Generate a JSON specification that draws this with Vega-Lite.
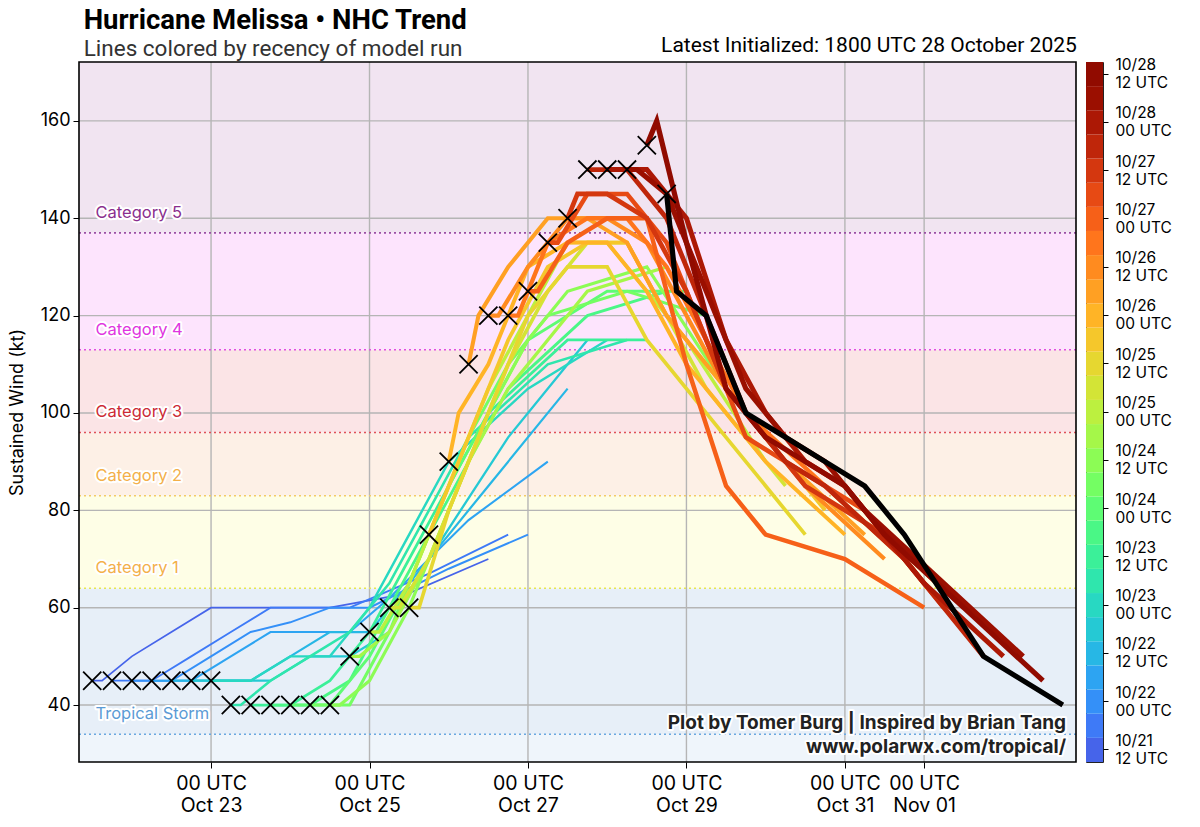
{
  "$schema": "https://vega.github.io/schema/vega-lite/v6.json",
  "padding": {"left": 8, "top": 7, "right": 5, "bottom": 5},
  "background": "white",
  "title": {
    "text": "Hurricane Melissa • NHC Trend",
    "subtitle": "Lines colored by recency of model run",
    "anchor": "start",
    "dx": 75,
    "offset": -25,
    "font": "Roboto",
    "fontSize": 27.5,
    "fontWeight": "bold",
    "color": "black",
    "subtitleFont": "Roboto",
    "subtitleFontSize": 22.5,
    "subtitleColor": "#333333",
    "subtitlePadding": 3
  },
  "datasets": {
    "bands": [
      {"b": "ts0", "lo": 0, "hi": 34},
      {"b": "ts", "lo": 34, "hi": 64},
      {"b": "c1", "lo": 64, "hi": 83},
      {"b": "c2", "lo": 83, "hi": 96},
      {"b": "c3", "lo": 96, "hi": 113},
      {"b": "c4", "lo": 113, "hi": 137},
      {"b": "c5", "lo": 137, "hi": 200}
    ],
    "cats": [
      {"name": "Tropical Storm", "v": 34},
      {"name": "Category 1", "v": 64},
      {"name": "Category 2", "v": 83},
      {"name": "Category 3", "v": 96},
      {"name": "Category 4", "v": 113},
      {"name": "Category 5", "v": 137}
    ],
    "gridx": [
      {"t": "2025-10-23T00:00Z"}, {"t": "2025-10-25T00:00Z"}, {"t": "2025-10-27T00:00Z"},
      {"t": "2025-10-29T00:00Z"}, {"t": "2025-10-31T00:00Z"}, {"t": "2025-11-01T00:00Z"}
    ],
    "gridy": [{"v": 40}, {"v": 60}, {"v": 80}, {"v": 100}, {"v": 120}, {"v": 140}, {"v": 160}],
    "bt": [
      {"r": 0, "t": "2025-10-21T12:00Z", "v": 45},
      {"r": 1, "t": "2025-10-21T18:00Z", "v": 45},
      {"r": 2, "t": "2025-10-22T00:00Z", "v": 45},
      {"r": 3, "t": "2025-10-22T06:00Z", "v": 45},
      {"r": 4, "t": "2025-10-22T12:00Z", "v": 45},
      {"r": 5, "t": "2025-10-22T18:00Z", "v": 45},
      {"r": 6, "t": "2025-10-23T00:00Z", "v": 45},
      {"r": 7, "t": "2025-10-23T06:00Z", "v": 40},
      {"r": 8, "t": "2025-10-23T12:00Z", "v": 40},
      {"r": 9, "t": "2025-10-23T18:00Z", "v": 40},
      {"r": 10, "t": "2025-10-24T00:00Z", "v": 40},
      {"r": 11, "t": "2025-10-24T06:00Z", "v": 40},
      {"r": 12, "t": "2025-10-24T12:00Z", "v": 40},
      {"r": 13, "t": "2025-10-24T18:00Z", "v": 50},
      {"r": 14, "t": "2025-10-25T00:00Z", "v": 55},
      {"r": 15, "t": "2025-10-25T06:00Z", "v": 60},
      {"r": 16, "t": "2025-10-25T12:00Z", "v": 60},
      {"r": 17, "t": "2025-10-25T18:00Z", "v": 75},
      {"r": 18, "t": "2025-10-26T00:00Z", "v": 90},
      {"r": 19, "t": "2025-10-26T06:00Z", "v": 110},
      {"r": 20, "t": "2025-10-26T12:00Z", "v": 120},
      {"r": 21, "t": "2025-10-26T18:00Z", "v": 120},
      {"r": 22, "t": "2025-10-27T00:00Z", "v": 125},
      {"r": 23, "t": "2025-10-27T06:00Z", "v": 135},
      {"r": 24, "t": "2025-10-27T12:00Z", "v": 140},
      {"r": 25, "t": "2025-10-27T18:00Z", "v": 150},
      {"r": 26, "t": "2025-10-28T00:00Z", "v": 150},
      {"r": 27, "t": "2025-10-28T06:00Z", "v": 150},
      {"r": 28, "t": "2025-10-28T12:00Z", "v": 155},
      {"r": 29, "t": "2025-10-28T18:00Z", "v": 145}
    ],
    "fc": [
      {"r":0,"t":"2025-10-21T12:00Z","v":45},{"r":0,"t":"2025-10-21T15:00Z","v":45},{"r":0,"t":"2025-10-22T00:00Z","v":50},{"r":0,"t":"2025-10-22T12:00Z","v":55},{"r":0,"t":"2025-10-23T00:00Z","v":60},{"r":0,"t":"2025-10-23T12:00Z","v":60},{"r":0,"t":"2025-10-24T00:00Z","v":60},{"r":0,"t":"2025-10-24T12:00Z","v":60},{"r":0,"t":"2025-10-25T12:00Z","v":63},{"r":0,"t":"2025-10-26T12:00Z","v":70},
      {"r":1,"t":"2025-10-21T18:00Z","v":45},{"r":1,"t":"2025-10-21T21:00Z","v":45},{"r":1,"t":"2025-10-22T06:00Z","v":45},{"r":1,"t":"2025-10-22T18:00Z","v":50},{"r":1,"t":"2025-10-23T06:00Z","v":55},{"r":1,"t":"2025-10-23T18:00Z","v":60},{"r":1,"t":"2025-10-24T06:00Z","v":60},{"r":1,"t":"2025-10-24T18:00Z","v":60},{"r":1,"t":"2025-10-25T18:00Z","v":67},{"r":1,"t":"2025-10-26T18:00Z","v":75},
      {"r":2,"t":"2025-10-22T00:00Z","v":45},{"r":2,"t":"2025-10-22T03:00Z","v":45},{"r":2,"t":"2025-10-22T12:00Z","v":45},{"r":2,"t":"2025-10-23T00:00Z","v":50},{"r":2,"t":"2025-10-23T12:00Z","v":55},{"r":2,"t":"2025-10-24T00:00Z","v":57},{"r":2,"t":"2025-10-24T12:00Z","v":60},{"r":2,"t":"2025-10-25T00:00Z","v":60},{"r":2,"t":"2025-10-26T00:00Z","v":68},{"r":2,"t":"2025-10-27T00:00Z","v":75},
      {"r":3,"t":"2025-10-22T06:00Z","v":45},{"r":3,"t":"2025-10-22T09:00Z","v":45},{"r":3,"t":"2025-10-22T18:00Z","v":45},{"r":3,"t":"2025-10-23T06:00Z","v":50},{"r":3,"t":"2025-10-23T18:00Z","v":55},{"r":3,"t":"2025-10-24T06:00Z","v":55},{"r":3,"t":"2025-10-24T18:00Z","v":55},{"r":3,"t":"2025-10-25T06:00Z","v":62},{"r":3,"t":"2025-10-26T06:00Z","v":78},{"r":3,"t":"2025-10-27T06:00Z","v":90},
      {"r":4,"t":"2025-10-22T12:00Z","v":45},{"r":4,"t":"2025-10-22T15:00Z","v":45},{"r":4,"t":"2025-10-23T00:00Z","v":45},{"r":4,"t":"2025-10-23T12:00Z","v":45},{"r":4,"t":"2025-10-24T00:00Z","v":50},{"r":4,"t":"2025-10-24T12:00Z","v":55},{"r":4,"t":"2025-10-25T00:00Z","v":55},{"r":4,"t":"2025-10-25T12:00Z","v":65},{"r":4,"t":"2025-10-26T12:00Z","v":85},{"r":4,"t":"2025-10-27T12:00Z","v":105},
      {"r":5,"t":"2025-10-22T18:00Z","v":45},{"r":5,"t":"2025-10-22T21:00Z","v":45},{"r":5,"t":"2025-10-23T06:00Z","v":45},{"r":5,"t":"2025-10-23T18:00Z","v":45},{"r":5,"t":"2025-10-24T06:00Z","v":50},{"r":5,"t":"2025-10-24T18:00Z","v":50},{"r":5,"t":"2025-10-25T06:00Z","v":55},{"r":5,"t":"2025-10-25T18:00Z","v":70},{"r":5,"t":"2025-10-26T18:00Z","v":95},{"r":5,"t":"2025-10-27T18:00Z","v":115},
      {"r":6,"t":"2025-10-23T00:00Z","v":45},{"r":6,"t":"2025-10-23T03:00Z","v":45},{"r":6,"t":"2025-10-23T12:00Z","v":45},{"r":6,"t":"2025-10-24T00:00Z","v":50},{"r":6,"t":"2025-10-24T12:00Z","v":50},{"r":6,"t":"2025-10-25T00:00Z","v":60},{"r":6,"t":"2025-10-25T12:00Z","v":75},{"r":6,"t":"2025-10-26T00:00Z","v":90},{"r":6,"t":"2025-10-27T00:00Z","v":105},{"r":6,"t":"2025-10-28T00:00Z","v":115},
      {"r":7,"t":"2025-10-23T06:00Z","v":40},{"r":7,"t":"2025-10-23T09:00Z","v":40},{"r":7,"t":"2025-10-23T18:00Z","v":45},{"r":7,"t":"2025-10-24T06:00Z","v":50},{"r":7,"t":"2025-10-24T18:00Z","v":55},{"r":7,"t":"2025-10-25T06:00Z","v":65},{"r":7,"t":"2025-10-25T18:00Z","v":80},{"r":7,"t":"2025-10-26T06:00Z","v":95},{"r":7,"t":"2025-10-27T06:00Z","v":110},{"r":7,"t":"2025-10-28T06:00Z","v":115},
      {"r":8,"t":"2025-10-23T12:00Z","v":40},{"r":8,"t":"2025-10-23T15:00Z","v":40},{"r":8,"t":"2025-10-24T00:00Z","v":40},{"r":8,"t":"2025-10-24T12:00Z","v":45},{"r":8,"t":"2025-10-25T00:00Z","v":55},{"r":8,"t":"2025-10-25T12:00Z","v":70},{"r":8,"t":"2025-10-26T00:00Z","v":85},{"r":8,"t":"2025-10-26T12:00Z","v":100},{"r":8,"t":"2025-10-27T12:00Z","v":115},{"r":8,"t":"2025-10-28T12:00Z","v":115},
      {"r":9,"t":"2025-10-23T18:00Z","v":40},{"r":9,"t":"2025-10-23T21:00Z","v":40},{"r":9,"t":"2025-10-24T06:00Z","v":40},{"r":9,"t":"2025-10-24T18:00Z","v":45},{"r":9,"t":"2025-10-25T06:00Z","v":60},{"r":9,"t":"2025-10-25T18:00Z","v":75},{"r":9,"t":"2025-10-26T06:00Z","v":90},{"r":9,"t":"2025-10-26T18:00Z","v":105},{"r":9,"t":"2025-10-27T18:00Z","v":120},{"r":9,"t":"2025-10-28T18:00Z","v":125},
      {"r":10,"t":"2025-10-24T00:00Z","v":40},{"r":10,"t":"2025-10-24T03:00Z","v":40},{"r":10,"t":"2025-10-24T12:00Z","v":40},{"r":10,"t":"2025-10-25T00:00Z","v":50},{"r":10,"t":"2025-10-25T12:00Z","v":65},{"r":10,"t":"2025-10-26T00:00Z","v":85},{"r":10,"t":"2025-10-26T12:00Z","v":100},{"r":10,"t":"2025-10-27T00:00Z","v":115},{"r":10,"t":"2025-10-28T00:00Z","v":125},{"r":10,"t":"2025-10-29T00:00Z","v":125},
      {"r":11,"t":"2025-10-24T06:00Z","v":40},{"r":11,"t":"2025-10-24T09:00Z","v":40},{"r":11,"t":"2025-10-24T18:00Z","v":40},{"r":11,"t":"2025-10-25T06:00Z","v":55},{"r":11,"t":"2025-10-25T18:00Z","v":75},{"r":11,"t":"2025-10-26T06:00Z","v":95},{"r":11,"t":"2025-10-26T18:00Z","v":110},{"r":11,"t":"2025-10-27T06:00Z","v":120},{"r":11,"t":"2025-10-28T06:00Z","v":125},{"r":11,"t":"2025-10-29T06:00Z","v":120},
      {"r":12,"t":"2025-10-24T12:00Z","v":40},{"r":12,"t":"2025-10-24T15:00Z","v":40},{"r":12,"t":"2025-10-25T00:00Z","v":45},{"r":12,"t":"2025-10-25T12:00Z","v":60},{"r":12,"t":"2025-10-26T00:00Z","v":80},{"r":12,"t":"2025-10-26T12:00Z","v":100},{"r":12,"t":"2025-10-27T00:00Z","v":115},{"r":12,"t":"2025-10-27T12:00Z","v":125},{"r":12,"t":"2025-10-28T12:00Z","v":130},{"r":12,"t":"2025-10-29T12:00Z","v":105},
      {"r":13,"t":"2025-10-24T18:00Z","v":50},{"r":13,"t":"2025-10-24T21:00Z","v":50},{"r":13,"t":"2025-10-25T06:00Z","v":55},{"r":13,"t":"2025-10-25T18:00Z","v":70},{"r":13,"t":"2025-10-26T06:00Z","v":90},{"r":13,"t":"2025-10-26T18:00Z","v":105},{"r":13,"t":"2025-10-27T06:00Z","v":115},{"r":13,"t":"2025-10-27T18:00Z","v":125},{"r":13,"t":"2025-10-28T18:00Z","v":130},{"r":13,"t":"2025-10-29T18:00Z","v":100},
      {"r":14,"t":"2025-10-25T00:00Z","v":55},{"r":14,"t":"2025-10-25T03:00Z","v":55},{"r":14,"t":"2025-10-25T12:00Z","v":65},{"r":14,"t":"2025-10-26T00:00Z","v":85},{"r":14,"t":"2025-10-26T12:00Z","v":105},{"r":14,"t":"2025-10-27T00:00Z","v":120},{"r":14,"t":"2025-10-27T12:00Z","v":135},{"r":14,"t":"2025-10-28T00:00Z","v":135},{"r":14,"t":"2025-10-29T00:00Z","v":115},{"r":14,"t":"2025-10-30T00:00Z","v":90},
      {"r":15,"t":"2025-10-25T06:00Z","v":60},{"r":15,"t":"2025-10-25T09:00Z","v":60},{"r":15,"t":"2025-10-25T18:00Z","v":70},{"r":15,"t":"2025-10-26T06:00Z","v":90},{"r":15,"t":"2025-10-26T18:00Z","v":110},{"r":15,"t":"2025-10-27T06:00Z","v":125},{"r":15,"t":"2025-10-27T18:00Z","v":135},{"r":15,"t":"2025-10-28T06:00Z","v":135},{"r":15,"t":"2025-10-29T06:00Z","v":105},{"r":15,"t":"2025-10-30T06:00Z","v":85},
      {"r":16,"t":"2025-10-25T12:00Z","v":60},{"r":16,"t":"2025-10-25T15:00Z","v":60},{"r":16,"t":"2025-10-26T00:00Z","v":80},{"r":16,"t":"2025-10-26T12:00Z","v":100},{"r":16,"t":"2025-10-27T00:00Z","v":120},{"r":16,"t":"2025-10-27T12:00Z","v":130},{"r":16,"t":"2025-10-28T00:00Z","v":130},{"r":16,"t":"2025-10-28T12:00Z","v":115},{"r":16,"t":"2025-10-29T12:00Z","v":95},{"r":16,"t":"2025-10-30T12:00Z","v":75},
      {"r":17,"t":"2025-10-25T18:00Z","v":75},{"r":17,"t":"2025-10-25T21:00Z","v":80},{"r":17,"t":"2025-10-26T06:00Z","v":95},{"r":17,"t":"2025-10-26T18:00Z","v":115},{"r":17,"t":"2025-10-27T06:00Z","v":130},{"r":17,"t":"2025-10-27T18:00Z","v":135},{"r":17,"t":"2025-10-28T06:00Z","v":135},{"r":17,"t":"2025-10-28T18:00Z","v":120},{"r":17,"t":"2025-10-29T18:00Z","v":100},{"r":17,"t":"2025-10-30T18:00Z","v":80},
      {"r":18,"t":"2025-10-26T00:00Z","v":90},{"r":18,"t":"2025-10-26T03:00Z","v":100},{"r":18,"t":"2025-10-26T12:00Z","v":110},{"r":18,"t":"2025-10-27T00:00Z","v":130},{"r":18,"t":"2025-10-27T12:00Z","v":135},{"r":18,"t":"2025-10-28T00:00Z","v":135},{"r":18,"t":"2025-10-28T12:00Z","v":125},{"r":18,"t":"2025-10-29T00:00Z","v":110},{"r":18,"t":"2025-10-30T00:00Z","v":90},{"r":18,"t":"2025-10-31T00:00Z","v":75},
      {"r":19,"t":"2025-10-26T06:00Z","v":110},{"r":19,"t":"2025-10-26T09:00Z","v":120},{"r":19,"t":"2025-10-26T18:00Z","v":130},{"r":19,"t":"2025-10-27T06:00Z","v":140},{"r":19,"t":"2025-10-27T18:00Z","v":140},{"r":19,"t":"2025-10-28T06:00Z","v":135},{"r":19,"t":"2025-10-28T18:00Z","v":120},{"r":19,"t":"2025-10-29T06:00Z","v":110},{"r":19,"t":"2025-10-30T06:00Z","v":90},{"r":19,"t":"2025-10-31T06:00Z","v":75},
      {"r":20,"t":"2025-10-26T12:00Z","v":120},{"r":20,"t":"2025-10-26T15:00Z","v":120},{"r":20,"t":"2025-10-27T00:00Z","v":130},{"r":20,"t":"2025-10-27T12:00Z","v":140},{"r":20,"t":"2025-10-28T00:00Z","v":140},{"r":20,"t":"2025-10-28T12:00Z","v":135},{"r":20,"t":"2025-10-29T00:00Z","v":120},{"r":20,"t":"2025-10-29T12:00Z","v":105},{"r":20,"t":"2025-10-30T12:00Z","v":85},{"r":20,"t":"2025-10-31T12:00Z","v":70},
      {"r":21,"t":"2025-10-26T18:00Z","v":120},{"r":21,"t":"2025-10-26T21:00Z","v":120},{"r":21,"t":"2025-10-27T06:00Z","v":135},{"r":21,"t":"2025-10-27T18:00Z","v":140},{"r":21,"t":"2025-10-28T06:00Z","v":140},{"r":21,"t":"2025-10-28T18:00Z","v":130},{"r":21,"t":"2025-10-29T06:00Z","v":115},{"r":21,"t":"2025-10-29T18:00Z","v":100},{"r":21,"t":"2025-10-30T18:00Z","v":85},{"r":21,"t":"2025-10-31T18:00Z","v":70},
      {"r":22,"t":"2025-10-27T00:00Z","v":125},{"r":22,"t":"2025-10-27T03:00Z","v":125},{"r":22,"t":"2025-10-27T12:00Z","v":135},{"r":22,"t":"2025-10-28T00:00Z","v":140},{"r":22,"t":"2025-10-28T12:00Z","v":140},{"r":22,"t":"2025-10-29T00:00Z","v":110},{"r":22,"t":"2025-10-29T12:00Z","v":85},{"r":22,"t":"2025-10-30T00:00Z","v":75},{"r":22,"t":"2025-10-31T00:00Z","v":70},{"r":22,"t":"2025-11-01T00:00Z","v":60},
      {"r":23,"t":"2025-10-27T06:00Z","v":135},{"r":23,"t":"2025-10-27T09:00Z","v":135},{"r":23,"t":"2025-10-27T18:00Z","v":145},{"r":23,"t":"2025-10-28T06:00Z","v":145},{"r":23,"t":"2025-10-28T18:00Z","v":135},{"r":23,"t":"2025-10-29T06:00Z","v":115},{"r":23,"t":"2025-10-29T18:00Z","v":95},{"r":23,"t":"2025-10-30T06:00Z","v":90},{"r":23,"t":"2025-10-31T06:00Z","v":80},{"r":23,"t":"2025-11-01T06:00Z","v":60},
      {"r":24,"t":"2025-10-27T12:00Z","v":140},{"r":24,"t":"2025-10-27T15:00Z","v":145},{"r":24,"t":"2025-10-28T00:00Z","v":145},{"r":24,"t":"2025-10-28T12:00Z","v":140},{"r":24,"t":"2025-10-29T00:00Z","v":125},{"r":24,"t":"2025-10-29T12:00Z","v":105},{"r":24,"t":"2025-10-30T00:00Z","v":95},{"r":24,"t":"2025-10-30T12:00Z","v":85},{"r":24,"t":"2025-10-31T12:00Z","v":75},{"r":24,"t":"2025-11-01T12:00Z","v":60},
      {"r":25,"t":"2025-10-27T18:00Z","v":150},{"r":25,"t":"2025-10-27T21:00Z","v":150},{"r":25,"t":"2025-10-28T06:00Z","v":150},{"r":25,"t":"2025-10-28T18:00Z","v":140},{"r":25,"t":"2025-10-29T06:00Z","v":120},{"r":25,"t":"2025-10-29T18:00Z","v":100},{"r":25,"t":"2025-10-30T06:00Z","v":90},{"r":25,"t":"2025-10-30T18:00Z","v":85},{"r":25,"t":"2025-10-31T18:00Z","v":70},{"r":25,"t":"2025-11-01T18:00Z","v":50},
      {"r":26,"t":"2025-10-28T00:00Z","v":150},{"r":26,"t":"2025-10-28T03:00Z","v":150},{"r":26,"t":"2025-10-28T12:00Z","v":150},{"r":26,"t":"2025-10-29T00:00Z","v":140},{"r":26,"t":"2025-10-29T12:00Z","v":115},{"r":26,"t":"2025-10-30T00:00Z","v":100},{"r":26,"t":"2025-10-30T12:00Z","v":90},{"r":26,"t":"2025-10-31T00:00Z","v":85},{"r":26,"t":"2025-11-01T00:00Z","v":65},{"r":26,"t":"2025-11-02T00:00Z","v":50},
      {"r":27,"t":"2025-10-28T06:00Z","v":150},{"r":27,"t":"2025-10-28T09:00Z","v":150},{"r":27,"t":"2025-10-28T18:00Z","v":145},{"r":27,"t":"2025-10-29T06:00Z","v":125},{"r":27,"t":"2025-10-29T18:00Z","v":105},{"r":27,"t":"2025-10-30T06:00Z","v":95},{"r":27,"t":"2025-10-30T18:00Z","v":90},{"r":27,"t":"2025-10-31T06:00Z","v":80},{"r":27,"t":"2025-11-01T06:00Z","v":65},{"r":27,"t":"2025-11-02T06:00Z","v":50},
      {"r":28,"t":"2025-10-28T12:00Z","v":155},{"r":28,"t":"2025-10-28T15:00Z","v":160},{"r":28,"t":"2025-10-29T00:00Z","v":135},{"r":28,"t":"2025-10-29T12:00Z","v":105},{"r":28,"t":"2025-10-30T00:00Z","v":95},{"r":28,"t":"2025-10-30T12:00Z","v":90},{"r":28,"t":"2025-10-31T00:00Z","v":85},{"r":28,"t":"2025-10-31T12:00Z","v":75},{"r":28,"t":"2025-11-01T12:00Z","v":60},{"r":28,"t":"2025-11-02T12:00Z","v":45},
      {"r":29,"t":"2025-10-28T18:00Z","v":145},{"r":29,"t":"2025-10-28T21:00Z","v":125},{"r":29,"t":"2025-10-29T06:00Z","v":120},{"r":29,"t":"2025-10-29T18:00Z","v":100},{"r":29,"t":"2025-10-30T06:00Z","v":95},{"r":29,"t":"2025-10-30T18:00Z","v":90},{"r":29,"t":"2025-10-31T06:00Z","v":85},{"r":29,"t":"2025-10-31T18:00Z","v":75},{"r":29,"t":"2025-11-01T18:00Z","v":50},{"r":29,"t":"2025-11-02T18:00Z","v":40}
    ]
  },
  "hconcat": [
    {
      "width": 997,
      "height": 700,
      "view": {"stroke": null},
      "title": {
        "text": "Latest Initialized: 1800 UTC 28 October 2025",
        "anchor": "end",
        "font": "Roboto",
        "fontSize": 21,
        "fontWeight": "normal",
        "color": "black",
        "offset": 5
      },
      "layer": [
        {
          "data": {"name": "bands"},
          "mark": {"type": "rect", "clip": true},
          "encoding": {
            "y": {
              "field": "lo", "type": "quantitative",
              "scale": {"domain": [28.3, 172.1], "nice": false, "zero": false},
              "title": "Sustained Wind (kt)",
              "axis": {
                "values": [40, 60, 80, 100, 120, 140, 160],
                "labelFontSize": 18, "labelPadding": 3, "tickSize": 6,
                "titleFontSize": 18, "titleFontWeight": "normal", "titlePadding": 13
              }
            },
            "y2": {"field": "hi"},
            "fill": {
              "field": "b", "type": "nominal",
              "scale": {
                "domain": ["ts0", "ts", "c1", "c2", "c3", "c4", "c5"],
                "range": ["#eff5fb", "#e7eff8", "#fefee6", "#fdf0e6", "#fbe4e6", "#fde4fd", "#f1e4f1"]
              },
              "legend": null
            }
          }
        },
        {
          "data": {"name": "gridx"},
          "mark": {"type": "rule", "color": "#b5b5b5", "strokeWidth": 1.4},
          "encoding": {
            "x": {
              "field": "t", "type": "temporal", "title": null,
              "scale": {"type": "utc", "domain": [
                {"year": 2025, "month": 10, "date": 21, "hours": 8, "utc": true},
                {"year": 2025, "month": 11, "date": 2, "hours": 22, "utc": true}]},
              "axis": {
                "values": [
                  {"year": 2025, "month": 10, "date": 23, "utc": true},
                  {"year": 2025, "month": 10, "date": 25, "utc": true},
                  {"year": 2025, "month": 10, "date": 27, "utc": true},
                  {"year": 2025, "month": 10, "date": 29, "utc": true},
                  {"year": 2025, "month": 10, "date": 31, "utc": true},
                  {"year": 2025, "month": 11, "date": 1, "utc": true}
                ],
                "labelExpr": "[utcFormat(datum.value, '%H UTC'), utcFormat(datum.value, '%b %d')]",
                "labelFontSize": 19.5, "labelLineHeight": 22, "labelPadding": 6, "tickSize": 6
              }
            }
          }
        },
        {
          "data": {"name": "gridy"},
          "mark": {"type": "rule", "color": "#b5b5b5", "strokeWidth": 1.4},
          "encoding": {
            "y": {"field": "v", "type": "quantitative", "title": "Sustained Wind (kt)",
              "scale": {"domain": [28.3, 172.1], "nice": false, "zero": false}}
          }
        },
        {
          "data": {"name": "cats"},
          "mark": {"type": "rule", "strokeWidth": 1.6, "strokeDash": [2, 3]},
          "encoding": {
            "y": {"field": "v", "type": "quantitative", "title": "Sustained Wind (kt)",
              "scale": {"domain": [28.3, 172.1], "nice": false, "zero": false}},
            "stroke": {
              "field": "name", "type": "nominal",
              "scale": {
                "domain": ["Tropical Storm", "Category 1", "Category 2", "Category 3", "Category 4", "Category 5"],
                "range": ["#6aa8e0", "#e6e650", "#f2cc66", "#e05058", "#e04ee0", "#9b4fa5"]
              },
              "legend": null
            }
          }
        },
        {
          "data": {"name": "cats"},
          "mark": {"type": "text", "align": "left", "baseline": "middle", "dy": -20, "fontSize": 16.5,
            "fill": "white", "stroke": "white", "strokeWidth": 4, "strokeJoin": "round"},
          "encoding": {
            "x": {"datum": {"year": 2025, "month": 10, "date": 21, "hours": 13, "utc": true}, "type": "temporal",
              "scale": {"type": "utc"}},
            "y": {"field": "v", "type": "quantitative", "title": "Sustained Wind (kt)",
              "scale": {"domain": [28.3, 172.1], "nice": false, "zero": false}},
            "text": {"field": "name"}
          }
        },
        {
          "data": {"name": "cats"},
          "mark": {"type": "text", "align": "left", "baseline": "middle", "dy": -20, "fontSize": 16.5},
          "encoding": {
            "x": {"datum": {"year": 2025, "month": 10, "date": 21, "hours": 13, "utc": true}, "type": "temporal",
              "scale": {"type": "utc"}},
            "y": {"field": "v", "type": "quantitative", "title": "Sustained Wind (kt)",
              "scale": {"domain": [28.3, 172.1], "nice": false, "zero": false}},
            "text": {"field": "name"},
            "fill": {
              "field": "name", "type": "nominal",
              "scale": {
                "domain": ["Tropical Storm", "Category 1", "Category 2", "Category 3", "Category 4", "Category 5"],
                "range": ["#5b9bd5", "#f3b04a", "#f3b04a", "#cc2a36", "#e035e0", "#8a2e8e"]
              },
              "legend": null
            }
          }
        },
        {
          "data": {"name": "fc"},
          "transform": [{"filter": "datum.r < 29"}],
          "mark": {"type": "line", "strokeJoin": "miter"},
          "encoding": {
            "x": {"field": "t", "type": "temporal", "title": null, "scale": {"type": "utc"}},
            "y": {"field": "v", "type": "quantitative", "title": "Sustained Wind (kt)",
              "scale": {"domain": [28.3, 172.1], "nice": false, "zero": false}},
            "detail": {"field": "r"},
            "color": {"field": "r", "type": "quantitative",
              "scale": {"domain": [0, 28], "scheme": {"name": "turbo", "extent": [0.12, 1]}}, "legend": null},
            "strokeWidth": {"field": "r", "type": "quantitative",
              "scale": {"domain": [0, 28], "range": [1.7, 5.2]}, "legend": null}
          }
        },
        {
          "data": {"name": "fc"},
          "transform": [{"filter": "datum.r == 29"}],
          "mark": {"type": "line", "color": "black", "strokeWidth": 5.2},
          "encoding": {
            "x": {"field": "t", "type": "temporal", "title": null, "scale": {"type": "utc"}},
            "y": {"field": "v", "type": "quantitative", "title": "Sustained Wind (kt)",
              "scale": {"domain": [28.3, 172.1], "nice": false, "zero": false}}
          }
        },
        {
          "data": {"name": "bt"},
          "mark": {"type": "point", "shape": "M-1,-1L1,1M-1,1L1,-1", "filled": false,
            "stroke": "black", "strokeWidth": 1.8, "size": 330, "opacity": 1},
          "encoding": {
            "x": {"field": "t", "type": "temporal", "title": null, "scale": {"type": "utc"}},
            "y": {"field": "v", "type": "quantitative", "title": "Sustained Wind (kt)",
              "scale": {"domain": [28.3, 172.1], "nice": false, "zero": false}}
          }
        },
        {
          "data": {"values": [{}]},
          "mark": {"type": "text", "align": "right", "baseline": "top", "fontSize": 19, "fontWeight": "bold",
            "lineHeight": 24, "fill": "white", "stroke": "white", "strokeWidth": 4, "strokeJoin": "round",
            "text": ["Plot by Tomer Burg | Inspired by Brian Tang", "www.polarwx.com/tropical/"]},
          "encoding": {
            "x": {"datum": {"year": 2025, "month": 11, "date": 2, "hours": 19, "utc": true}, "type": "temporal",
              "scale": {"type": "utc"}},
            "y": {"datum": 38.2, "type": "quantitative",
              "scale": {"domain": [28.3, 172.1], "nice": false, "zero": false}}
          }
        },
        {
          "data": {"values": [{}]},
          "mark": {"type": "text", "align": "right", "baseline": "top", "fontSize": 19, "fontWeight": "bold",
            "lineHeight": 24, "fill": "#222222",
            "text": ["Plot by Tomer Burg | Inspired by Brian Tang", "www.polarwx.com/tropical/"]},
          "encoding": {
            "x": {"datum": {"year": 2025, "month": 11, "date": 2, "hours": 19, "utc": true}, "type": "temporal",
              "scale": {"type": "utc"}},
            "y": {"datum": 38.2, "type": "quantitative",
              "scale": {"domain": [28.3, 172.1], "nice": false, "zero": false}}
          }
        },
        {
          "data": {"values": [{}]},
          "mark": {"type": "rect", "fillOpacity": 0, "stroke": "black", "strokeWidth": 1.6},
          "encoding": {
            "x": {"datum": {"year": 2025, "month": 10, "date": 21, "hours": 8, "utc": true}, "type": "temporal",
              "scale": {"type": "utc"}},
            "x2": {"datum": {"year": 2025, "month": 11, "date": 2, "hours": 22, "utc": true}},
            "y": {"datum": 28.3, "type": "quantitative",
              "scale": {"domain": [28.3, 172.1], "nice": false, "zero": false}},
            "y2": {"datum": 172.1}
          }
        }
      ],
      "resolve": {"scale": {"fill": "independent"}}
    },
    {
      "width": 17,
      "height": 700,
      "view": {"stroke": "#222222", "strokeWidth": 1},
      "data": {"name": "bt"},
      "transform": [{"filter": "datum.r < 29"}],
      "mark": {"type": "rect"},
      "encoding": {
        "y": {
          "field": "r", "type": "ordinal", "sort": "descending",
          "scale": {"paddingInner": 0, "paddingOuter": 0},
          "axis": {
            "orient": "right",
            "title": null,
            "values": [0, 2, 4, 6, 8, 10, 12, 14, 16, 18, 20, 22, 24, 26, 28],
            "labelExpr": "[utcFormat(utc(2025, 9, 21, 12 + 6 * datum.value), '%m/%d'), utcFormat(utc(2025, 9, 21, 12 + 6 * datum.value), '%H UTC')]",
            "labelFontSize": 15.5, "labelLineHeight": 18, "labelPadding": 7, "labelOffset": -9,
            "tickSize": 5, "domain": false
          }
        },
        "color": {"field": "r", "type": "quantitative",
          "scale": {"domain": [0, 28], "scheme": {"name": "turbo", "extent": [0.12, 1]}}, "legend": null}
      }
    }
  ],
  "spacing": 8,
  "resolve": {"scale": {"color": "shared"}},
  "config": {
    "font": "Inter",
    "axis": {"labelColor": "black", "tickColor": "black", "titleColor": "black", "domain": false, "grid": false,
      "labelFont": "Inter", "titleFont": "Inter"},
    "title": {"color": "black"}
  }
}
